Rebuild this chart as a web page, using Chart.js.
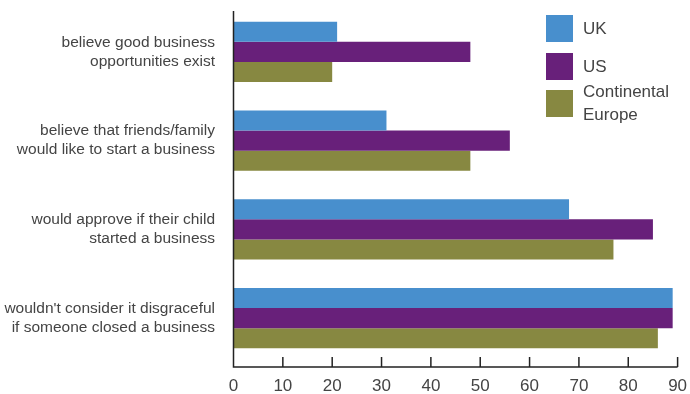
<!DOCTYPE html>
<html>
<head>
<meta charset="utf-8">
<script src="https://cdn.jsdelivr.net/npm/chart.js"></script>
<style>
  html, body { margin: 0; padding: 0; background: #fff; }
  #wrap { width: 690px; height: 394px; }
</style>
</head>
<body>
<div id="wrap"><canvas id="attitudesChart" width="690" height="394"></canvas></div>
<script>
// data
const categories = [
    ['believe good business', 'opportunities exist'],
    ['believe that friends/family', 'would like to start a business'],
    ['would approve if their child', 'started a business'],
    ["wouldn't consider it disgraceful", 'if someone closed a business']
];
const ukValues = [21, 31, 68, 89];
const usValues = [48, 56, 85, 89];
const europeValues = [20, 48, 77, 86];
const seriesNames = ['UK', 'US', ['Continental', 'Europe']];
const xTicks = [0, 10, 20, 30, 40, 50, 60, 70, 80, 90];

const colors = ['#488fcd', '#68207a', '#878841'];
const textColor = '#444444';
const fontFamily = '"Liberation Sans", Arial, sans-serif';

// axis lines with inward ticks, tick labels and the legend on the right
const axisAndLegend = {
    id: 'axisAndLegend',
    afterDraw(chart) {
        const c = chart.ctx;
        const area = chart.chartArea;
        const x = chart.scales.x;
        const y = chart.scales.y;
        const x0 = x.getPixelForValue(0);
        const yAxis = area.bottom + 4.5;
        c.save();
        c.strokeStyle = '#222';
        c.lineWidth = 1.5;
        c.beginPath();
        c.moveTo(x0, area.top + 3.5);
        c.lineTo(x0, yAxis);
        c.lineTo(x.getPixelForValue(90), yAxis);
        c.stroke();

        c.fillStyle = textColor;
        c.font = '17px ' + fontFamily;
        c.textAlign = 'center';
        c.textBaseline = 'middle';
        xTicks.forEach(v => {
            const px = x.getPixelForValue(v);
            if (v !== 0) {
                c.beginPath();
                c.moveTo(px, yAxis);
                c.lineTo(px, yAxis - 10);
                c.stroke();
            }
            c.fillText(String(v), px, 386);
        });

        // category labels
        c.font = '15.5px ' + fontFamily;
        c.textAlign = 'right';
        categories.forEach((lines, i) => {
            const py = y.getPixelForValue(i);
            c.fillText(lines[0], 215, py - 9.5);
            c.fillText(lines[1], 215, py + 9.5);
        });

        // legend
        const boxX = 546, boxW = 27;
        const boxTops = [15, 53, 90];
        c.font = '17px ' + fontFamily;
        c.textAlign = 'left';
        chart.data.datasets.forEach((ds, i) => {
            c.fillStyle = ds.backgroundColor;
            c.fillRect(boxX, boxTops[i], boxW, boxW);
            c.fillStyle = textColor;
            const lines = Array.isArray(seriesNames[i]) ? seriesNames[i] : [seriesNames[i]];
            if (lines.length === 1) {
                c.fillText(lines[0], 583, boxTops[i] + 14);
            } else {
                c.fillText(lines[0], 583, boxTops[i] + 2);
                c.fillText(lines[1], 583, boxTops[i] + 25);
            }
        });
        c.restore();
    }
};

const ctx = document.getElementById('attitudesChart').getContext('2d');
new Chart(ctx, {
    type: 'bar',
    data: {
        labels: categories,
        datasets: [
            { label: 'UK', data: ukValues, backgroundColor: colors[0] },
            { label: 'US', data: usValues, backgroundColor: colors[1] },
            { label: 'Continental Europe', data: europeValues, backgroundColor: colors[2] }
        ]
    },
    options: {
        indexAxis: 'y',
        responsive: false,
        animation: false,
        layout: { padding: { top: 7.5, right: 12.4, left: 0, bottom: 0 } },
        datasets: {
            bar: { barPercentage: 1, categoryPercentage: 0.677, borderWidth: 0 }
        },
        scales: {
            x: {
                min: 0,
                max: 90,
                afterFit(s) { s.height = 31.5; },
                grid: { display: false },
                border: { display: false },
                ticks: { display: false }
            },
            y: {
                afterFit(s) { s.width = 233.5; },
                grid: { display: false },
                border: { display: false },
                ticks: { display: false }
            }
        },
        plugins: {
            legend: { display: false },
            tooltip: { enabled: false }
        }
    },
    plugins: [axisAndLegend]
});
</script>
</body>
</html>
